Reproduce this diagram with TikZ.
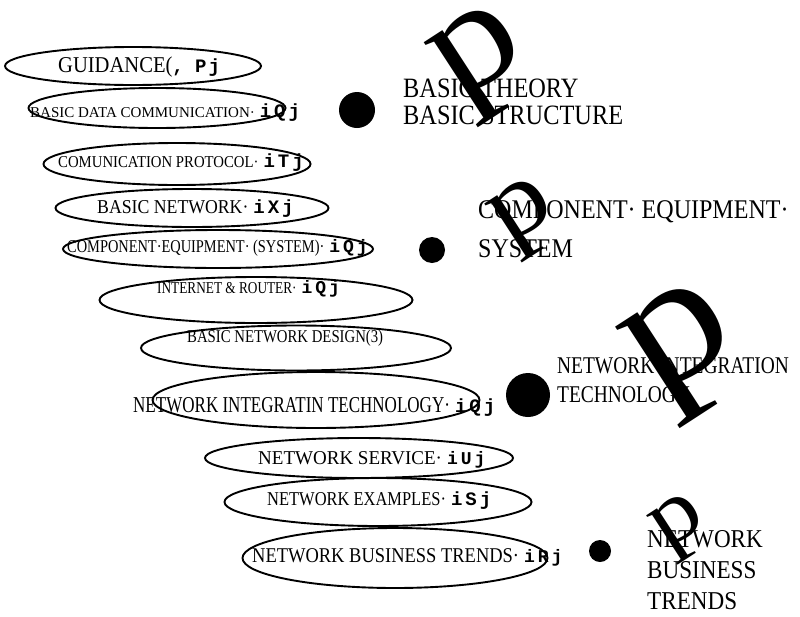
\documentclass[tikz,border=0pt]{standalone}
\usepackage{fontspec}
\usepackage{graphicx}
\setmainfont{Liberation Serif}
\newfontfamily\monofnt{Liberation Mono}
\usetikzlibrary{shapes.geometric}

\newcommand{\fs}[1]{\fontsize{#1}{#1}\selectfont}
\newcommand{\sq}[2]{\scalebox{#1}[1]{#2}}
\newcommand{\numtag}[2]{{\monofnt\bfseries\fs{#1}\hspace{5pt}i\hspace{3pt}#2\hspace{3pt}j}}

\begin{document}
\begin{tikzpicture}[x=1pt,y=-1pt,
    oval/.style={draw,ellipse,line width=1.9pt,inner sep=0pt},
    lbl/.style={anchor=base west,inner sep=0pt},
    dot/.style={circle,fill,inner sep=0pt},
    bigp/.style={inner sep=0pt,rotate=33}]
    \useasboundingbox (0,0) rectangle (800,616);

    % course list
    \node[oval,minimum width=256,minimum height=38] (e1) at (133,66) {};
    \node[oval,minimum width=257,minimum height=40] (e2) at (157,108) {};
    \node[oval,minimum width=267,minimum height=42] (e3) at (177,164) {};
    \node[oval,minimum width=273,minimum height=38] (e4) at (192,208) {};
    \node[oval,minimum width=310,minimum height=38] (e5) at (218,249) {};
    \node[oval,minimum width=313,minimum height=46] (e6) at (256,300) {};
    \node[oval,minimum width=310,minimum height=45] (e7) at (296,348) {};
    \node[oval,minimum width=327,minimum height=56] (e8) at (316,400) {};
    \node[oval,minimum width=308,minimum height=40] (e9) at (359,458) {};
    \node[oval,minimum width=307,minimum height=48] (e10) at (378,502) {};
    \node[oval,minimum width=305,minimum height=60] (e11) at (395,558) {};

    \node[lbl,font=\fs{22.6}] (t1) at (58,72) {\sq{0.91}{GUIDANCE(}{\monofnt\bfseries\fs{19}, P\hspace{2pt}j}};
    \node[lbl,font=\fs{15}] (t2) at (30,117) {\sq{1.0}{BASIC DATA COMMUNICATION·}\numtag{19}{Q}};
    \node[lbl,font=\fs{16.6}] (t3) at (58,167) {\sq{0.89}{COMUNICATION PROTOCOL·}\numtag{19}{T}};
    \node[lbl,font=\fs{19.6}] (t4) at (97,213) {\sq{0.905}{BASIC NETWORK·}\numtag{19}{X}};
    \node[lbl,font=\fs{18}] (t5) at (67,252) {\sq{0.80}{COMPONENT·EQUIPMENT· (SYSTEM)·}\numtag{18}{Q}};
    \node[lbl,font=\fs{16.6}] (t6) at (157,293) {\sq{0.80}{INTERNET \& ROUTER·}\numtag{18}{Q}};
    \node[lbl,font=\fs{18}] (t7) at (187,342) {\sq{0.82}{BASIC NETWORK DESIGN(3)}};
    \node[lbl,font=\fs{22.7}] (t8) at (133,412) {\sq{0.75}{NETWORK INTEGRATIN TECHNOLOGY·}\numtag{19}{Q}};
    \node[lbl,font=\fs{19.6}] (t9) at (258,464) {\sq{0.97}{NETWORK SERVICE·}\numtag{18}{U}};
    \node[lbl,font=\fs{19.6}] (t10) at (267,505) {\sq{0.84}{NETWORK EXAMPLES·}\numtag{19}{S}};
    \node[lbl,font=\fs{21}] (t11) at (252,562) {\sq{0.88}{NETWORK BUSINESS TRENDS·}\numtag{18}{R}};

    % groups
    \node[dot,minimum size=36] (d1) at (357,110) {};
    \node[dot,minimum size=26] (d2) at (432,250) {};
    \node[dot,minimum size=44] (d3) at (528,395) {};
    \node[dot,minimum size=22] (d4) at (600,551) {};

    \node[lbl,font=\fs{28}] (g1a) at (403,97) {\sq{0.87}{BASIC THEORY}};
    \node[lbl,font=\fs{28}] (g1b) at (403,124) {\sq{0.87}{BASIC STRUCTURE}};
    \node[lbl,font=\fs{27}] (g2a) at (478,218) {\sq{0.89}{COMPONENT·\ EQUIPMENT·}};
    \node[lbl,font=\fs{27}] (g2b) at (478,257) {\sq{0.89}{SYSTEM}};
    \node[lbl,font=\fs{24}] (g3a) at (557,373) {\sq{0.81}{NETWORK INTEGRATION}};
    \node[lbl,font=\fs{24}] (g3b) at (557,402) {\sq{0.81}{TECHNOLOGY}};
    \node[lbl,font=\fs{25.7}] (g4a) at (647,547) {\sq{0.9}{NETWORK}};
    \node[lbl,font=\fs{25.7}] (g4b) at (647,578) {\sq{0.9}{BUSINESS}};
    \node[lbl,font=\fs{25.7}] (g4c) at (647,609) {\sq{0.9}{TRENDS}};

    \node[bigp,font=\fs{150}] (p1) at (484,63) {\sq{1.15}{p}};
    \node[bigp,font=\fs{104}] (p2) at (526,218) {\sq{1.15}{p}};
    \node[bigp,font=\fs{179}] (p3) at (687,351) {\sq{1.15}{p}};
    \node[bigp,font=\fs{87}] (p4) at (681,527) {\sq{1.15}{p}};
\end{tikzpicture}
\end{document}
